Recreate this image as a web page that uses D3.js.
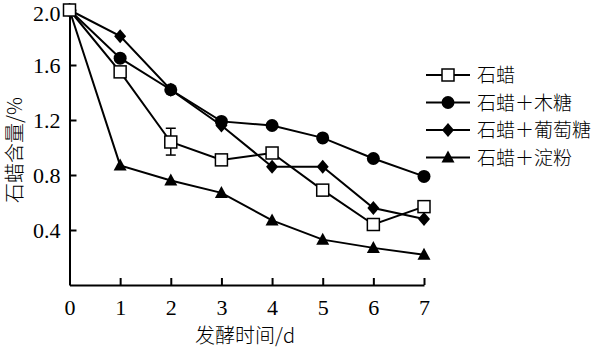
<!DOCTYPE html>
<html lang="en">
<head>
<meta charset="utf-8">
<script src="https://d3js.org/d3.v7.min.js"></script>
<style>
  body { margin: 0; background: #fff; }
  .tick text { font-family: "Liberation Serif", "Times New Roman", serif; font-size: 22px; fill: #000; }
  .cjk { font-family: "Noto Sans CJK SC", sans-serif; font-weight: 300; fill: #000; }
</style>
</head>
<body>
<svg id="chart" width="609" height="351"></svg>
<script>
  // fermentation days
  const days = [0, 1, 2, 3, 4, 5, 6, 7];
  const seriesNames = ["石蜡", "石蜡＋木糖", "石蜡＋葡萄糖", "石蜡＋淀粉"];
  const paraffin = [2.0, 1.55, 1.04, 0.91, 0.96, 0.69, 0.44, 0.57];
  const xylose = [2.0, 1.65, 1.42, 1.19, 1.16, 1.07, 0.92, 0.79];
  const glucose = [2.0, 1.81, 1.42, 1.16, 0.86, 0.86, 0.56, 0.48];
  const starch = [2.0, 0.87, 0.76, 0.67, 0.47, 0.33, 0.27, 0.22];
  const errDay = 2, errLow = 0.945, errHigh = 1.14;
  const yTicks = [0.4, 0.8, 1.2, 1.6, 2.0];
  const markers = ["square", "circle", "diamond", "triangle"];

  const svg = d3.select("#chart");

  const x = d3.scaleLinear().domain([0, 7]).range([69.5, 424]);
  const y = d3.scaleLinear().domain([0, 2.0]).range([285, 10]);

  // axes: ticks point inward
  const xAxis = svg.append("g")
      .attr("transform", "translate(0,285)")
      .call(d3.axisBottom(x).tickValues(days).tickFormat(d3.format("d"))
        .tickSize(-7).tickPadding(14).tickSizeOuter(0));
  xAxis.selectAll(".tick").filter(d => d === 0).select("line").remove();

  const yAxis = svg.append("g")
      .attr("transform", "translate(69.5,0)")
      .call(d3.axisLeft(y).tickValues(yTicks).tickSize(-7).tickPadding(9)
        .tickFormat(d3.format(".1f")).tickSizeOuter(0));
  // top label sits right at the edge, nudge it down a bit
  yAxis.selectAll(".tick").filter(d => d === 2.0).select("text").attr("y", 3);

  svg.selectAll(".domain, .tick line").attr("stroke", "#000").attr("stroke-width", 2);

  // axis titles
  svg.append("text").attr("class", "cjk")
      .attr("x", 245).attr("y", 343)
      .attr("text-anchor", "middle").style("font-size", "20px")
      .text("发酵时间/d");
  svg.append("text").attr("class", "cjk")
      .attr("transform", "translate(22,150) rotate(-90)")
      .attr("text-anchor", "middle").style("font-size", "20px")
      .text("石蜡含量/%");

  function drawMarker(g, type, cx, cy) {
    if (type === "square") {
      g.append("rect").attr("x", cx - 6).attr("y", cy - 6).attr("width", 12).attr("height", 12)
        .attr("fill", "#fff").attr("stroke", "#000").attr("stroke-width", 1.5);
    } else if (type === "circle") {
      g.append("circle").attr("cx", cx).attr("cy", cy).attr("r", 6.5).attr("fill", "#000");
    } else if (type === "diamond") {
      g.append("path").attr("d", `M${cx},${cy - 7}L${cx + 6},${cy}L${cx},${cy + 7}L${cx - 6},${cy}Z`).attr("fill", "#000");
    } else {
      g.append("path").attr("d", `M${cx},${cy - 7}L${cx + 6.5},${cy + 5}L${cx - 6.5},${cy + 5}Z`).attr("fill", "#000");
    }
  }

  const allSeries = [paraffin, xylose, glucose, starch];
  const line = d3.line().x((d, i) => x(days[i])).y(d => y(d));

  allSeries.forEach(s => {
    svg.append("path").datum(s).attr("d", line)
      .attr("fill", "none").attr("stroke", "#000").attr("stroke-width", 2);
  });

  // error bar for paraffin on day 2
  const eb = svg.append("g").attr("stroke", "#000").attr("stroke-width", 1.5);
  eb.append("line").attr("x1", x(errDay)).attr("x2", x(errDay)).attr("y1", y(errLow)).attr("y2", y(errHigh));
  [errLow, errHigh].forEach(v => eb.append("line")
      .attr("x1", x(errDay) - 5).attr("x2", x(errDay) + 5).attr("y1", y(v)).attr("y2", y(v)));

  // markers, starch first so the paraffin squares sit on top
  [3, 2, 1, 0].forEach(k => {
    const g = svg.append("g");
    allSeries[k].forEach((v, i) => drawMarker(g, markers[k], x(days[i]), y(v)));
  });

  // legend
  const legend = svg.append("g");
  seriesNames.forEach((name, k) => {
    const ly = 75 + k * 27.5;
    legend.append("line").attr("x1", 426).attr("x2", 470).attr("y1", ly).attr("y2", ly)
      .attr("stroke", "#000").attr("stroke-width", 2);
    drawMarker(legend, markers[k], 448, ly);
    legend.append("text").attr("class", "cjk")
      .attr("x", 477).attr("y", ly + 7).style("font-size", "19px")
      .text(name);
  });
</script>
</body>
</html>
